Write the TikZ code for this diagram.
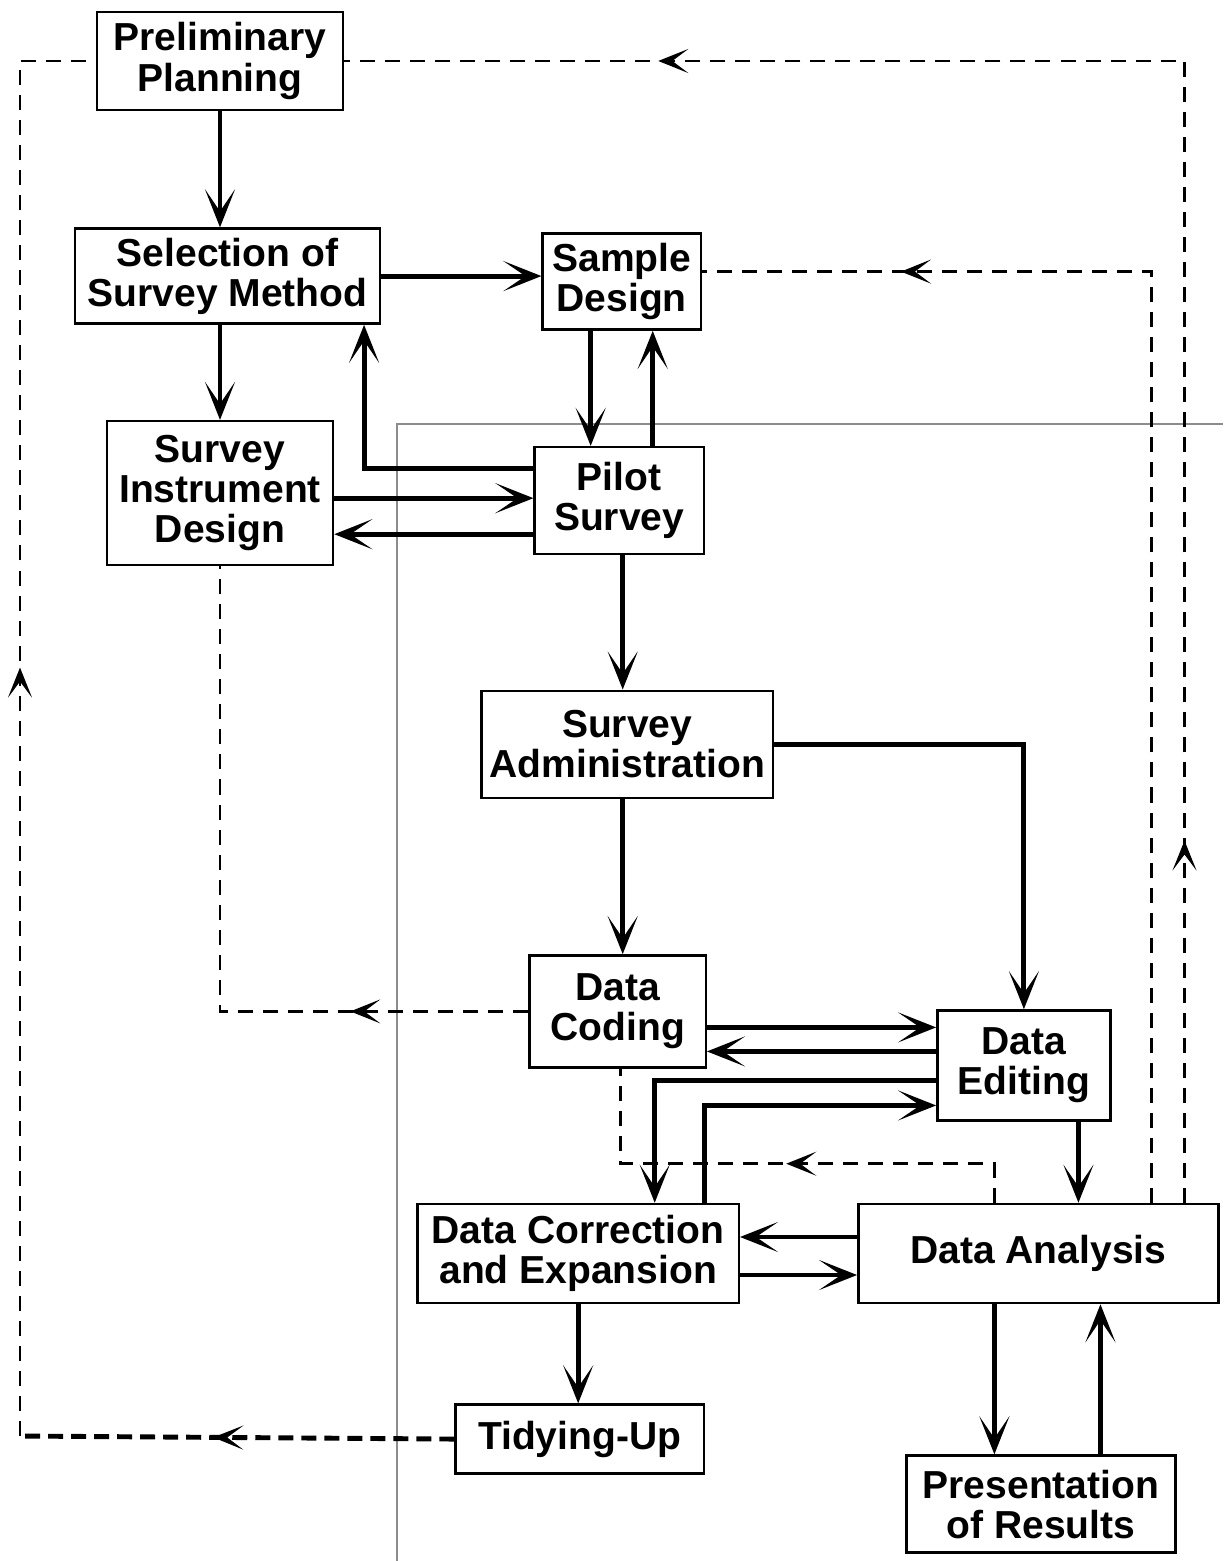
\documentclass[tikz,border=0pt]{standalone}
\usepackage{fontspec}
\setmainfont{Liberation Sans}
\usetikzlibrary{arrows.meta,positioning,decorations.markings}

\newcommand{\stagefont}{\fontsize{11.1pt}{11.4pt}\selectfont\bfseries}

\tikzset{
    stage/.style={draw, line width=0.7pt, align=center, inner sep=0pt, font=\stagefont},
    flow/.style={line width=1.4pt, -{Stealth[length=3.8mm, width=3mm, inset=2.2mm]}},
    feedback/.style={line width=0.7pt, dash pattern=on 0.15cm off 0.1cm},
    midarrow/.style={postaction={decorate, decoration={markings,
        mark=at position #1 with {\arrow[solid]{Stealth[length=3mm, width=2.4mm, inset=1.6mm]}}}}},
    frame/.style={draw=black!45, line width=0.6pt},
}

\begin{document}
\begin{tikzpicture}[x=0.01cm, y=-0.01cm]
        \useasboundingbox (0,0) rectangle (1223,1561);
        \draw[frame] (397,1561) |- (1223,424);

        \node[stage, minimum width=2.46cm, minimum height=0.98cm] (pp) at (220,61) {Preliminary\\Planning};
        \node[stage, minimum width=3.05cm, minimum height=0.95cm, below=1.16cm of pp, xshift=0.075cm] (ssm) {Selection of\\Survey Method};
        \node[stage, minimum width=2.26cm, minimum height=1.44cm, below=0.95cm of ssm, xshift=-0.075cm] (sid) {Survey\\Instrument\\Design};
        \node[stage, minimum width=1.58cm, minimum height=0.96cm, right=1.60cm of ssm, yshift=-0.055cm] (sd) {Sample\\Design};
        \node[stage, minimum width=1.69cm, minimum height=1.07cm, below=1.15cm of sd, xshift=-0.025cm] (ps) {Pilot\\Survey};
        \node[stage, minimum width=2.91cm, minimum height=1.07cm, below=1.34cm of ps, xshift=0.08cm] (sa) {Survey\\Administration};
        \node[stage, minimum width=1.76cm, minimum height=1.12cm, below=1.55cm of sa, xshift=-0.095cm] (dc) {Data\\Coding};
        \node[stage, minimum width=1.73cm, minimum height=1.10cm, right=2.29cm of dc, yshift=-0.54cm] (de) {Data\\Editing};
        \node[stage, minimum width=3.21cm, minimum height=0.99cm, below=1.34cm of dc, xshift=-0.395cm] (dce) {Data Correction\\and Expansion};
        \node[stage, minimum width=3.60cm, minimum height=0.99cm, right=1.17cm of dce] (da) {Data Analysis};
        \node[stage, minimum width=2.48cm, minimum height=0.69cm, below=0.99cm of dce, xshift=0.015cm] (tu) {Tidying-Up};
        \node[stage, minimum width=2.69cm, minimum height=0.97cm, below=1.50cm of da, xshift=0.025cm] (pr) {Presentation\\of Results};

        % main flow
        \draw[flow] (pp.south) -- (pp.south |- ssm.north);
        \draw[flow] (ssm.east) -- (ssm.east -| sd.west);
        \draw[flow] (sid.north |- ssm.south) -- (sid.north);
        \draw[flow] ([xshift=-0.31cm]sd.south) -- ([xshift=-0.31cm]sd.south |- ps.north);
        \draw[flow] ([xshift=0.335cm]ps.north) -- ([xshift=0.335cm]ps.north |- sd.south);
        \draw[flow] ([yshift=0.325cm]ps.west) -| ([xshift=1.365cm]ssm.south);
        \draw[flow] ([yshift=-0.05cm]sid.east) -- ([yshift=-0.05cm]sid.east -| ps.west);
        \draw[flow] ([yshift=-0.335cm]ps.west) -- ([yshift=-0.335cm]ps.west -| sid.east);
        \draw[flow] ([xshift=0.035cm]ps.south) -- ([xshift=0.035cm]ps.south |- sa.north);
        \draw[flow] (sa.east) -| (de.north);
        \draw[flow] ([xshift=-0.045cm]sa.south) -- ([xshift=-0.045cm]sa.south |- dc.north);
        \draw[flow] ([yshift=-0.16cm]dc.east) -- ([yshift=-0.16cm]dc.east -| de.west);
        \draw[flow] ([yshift=0.14cm]de.west) -- ([yshift=0.14cm]de.west -| dc.east);
        \draw[flow] ([yshift=-0.15cm]de.west) -| ([xshift=0.765cm]dce.north);
        \draw[flow] ([xshift=1.265cm]dce.north) |- ([yshift=-0.4cm]de.west);
        \draw[flow] ([xshift=0.545cm]de.south) -- ([xshift=0.545cm]de.south |- da.north);
        \draw[flow] ([yshift=0.165cm]da.west) -- ([yshift=0.165cm]da.west -| dce.east);
        \draw[flow] ([yshift=-0.215cm]dce.east) -- ([yshift=-0.215cm]dce.east -| da.west);
        \draw[flow] (dce.south) -- (dce.south |- tu.north);
        \draw[flow] ([xshift=-0.44cm]da.south) -- ([xshift=-0.44cm]da.south |- pr.north);
        \draw[flow] ([xshift=0.595cm]pr.north) -- ([xshift=0.595cm]pr.north |- da.south);

        % feedback loops
        \coordinate (tuCorner) at (20,1436);
        \draw[feedback, line width=1.4pt, dash pattern=on 0.15cm off 0.08cm, midarrow=2.41cm] (tu.west) -- (tuCorner);
        \draw[feedback, midarrow=7.68cm] (tuCorner) |- (pp.west);
        \draw[feedback, midarrow=3.62cm, midarrow=16.67cm] ([xshift=1.46cm]da.north) |- (pp.east);
        \draw[feedback, midarrow=11.81cm] ([xshift=1.13cm]da.north) |- ([yshift=0.1cm]sd.east);
        \draw[feedback, midarrow=1.78cm] (dc.west) -| (sid.south);
        \draw[feedback, midarrow=2.47cm] ([xshift=-0.44cm]da.north) |- ([xshift=0.03cm, yshift=-0.95cm]dc.south) -- ([xshift=0.03cm]dc.south);
\end{tikzpicture}
\end{document}
